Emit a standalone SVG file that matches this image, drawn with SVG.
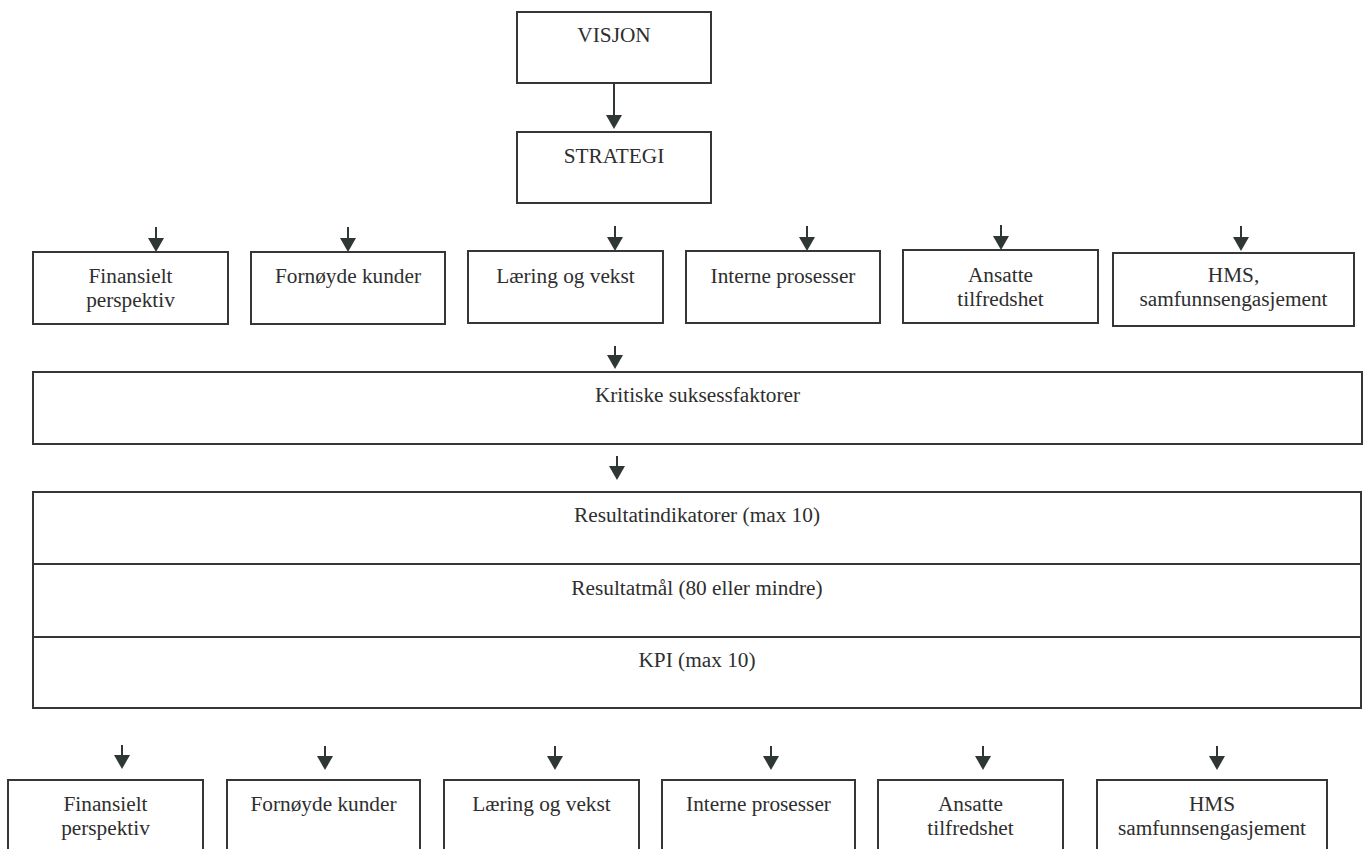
<svg xmlns="http://www.w3.org/2000/svg" width="1369" height="849" viewBox="0 0 1369 849">
<defs>
<style>
.box{fill:#ffffff;stroke:#363636;stroke-width:2}
.div{stroke:#363636;stroke-width:2}
.t{font-family:"Liberation Serif","Times New Roman",serif;font-size:21.3px;fill:#2e2e2e;text-anchor:middle}
.c{stroke:#2f3735;stroke-width:2;fill:none;marker-end:url(#ah)}
</style>
<marker id="ah" viewBox="0 0 10 10" refX="0" refY="5" markerUnits="userSpaceOnUse" markerWidth="14" markerHeight="16" orient="auto" preserveAspectRatio="none">
<path d="M0,0 L10,5 L0,10 z" fill="#2f3735"/>
</marker>
</defs>
<rect width="1369" height="849" fill="#ffffff"/>

<g id="connectors">
<line class="c" x1="614" y1="83" x2="614" y2="115"/>
<line class="c" x1="156" y1="227" x2="156" y2="238"/>
<line class="c" x1="348" y1="227" x2="348" y2="238"/>
<line class="c" x1="615" y1="226" x2="615" y2="237"/>
<line class="c" x1="807" y1="226" x2="807" y2="237"/>
<line class="c" x1="1001" y1="225" x2="1001" y2="236"/>
<line class="c" x1="1241" y1="226" x2="1241" y2="237"/>
<line class="c" x1="615" y1="346" x2="615" y2="355"/>
<line class="c" x1="617" y1="456" x2="617" y2="466"/>
<line class="c" x1="122" y1="745" x2="122" y2="755"/>
<line class="c" x1="325" y1="746" x2="325" y2="756"/>
<line class="c" x1="555" y1="746" x2="555" y2="756"/>
<line class="c" x1="771" y1="746" x2="771" y2="756"/>
<line class="c" x1="983" y1="746" x2="983" y2="756"/>
<line class="c" x1="1217" y1="746" x2="1217" y2="756"/>
</g>

<g id="visjon">
<rect class="box" x="517" y="12" width="194" height="71"/>
<text class="t" x="614" y="42">VISJON</text>
</g>
<g id="strategi">
<rect class="box" x="517" y="132" width="194" height="71"/>
<text class="t" x="614" y="163">STRATEGI</text>
</g>

<g id="r1-finansielt">
<rect class="box" x="33" y="252" width="195" height="72"/>
<text class="t" x="130.5" y="283">Finansielt</text>
<text class="t" x="130.5" y="307">perspektiv</text>
</g>
<g id="r1-fornoyde">
<rect class="box" x="251" y="252" width="194" height="72"/>
<text class="t" x="348" y="283">Fornøyde kunder</text>
</g>
<g id="r1-laering">
<rect class="box" x="468" y="251" width="195" height="72"/>
<text class="t" x="565.5" y="283">Læring og vekst</text>
</g>
<g id="r1-interne">
<rect class="box" x="686" y="251" width="194" height="72"/>
<text class="t" x="783" y="283">Interne prosesser</text>
</g>
<g id="r1-ansatte">
<rect class="box" x="903" y="250" width="195" height="73"/>
<text class="t" x="1000.5" y="282">Ansatte</text>
<text class="t" x="1000.5" y="306">tilfredshet</text>
</g>
<g id="r1-hms">
<rect class="box" x="1113" y="253" width="241" height="73"/>
<text class="t" x="1233.5" y="282">HMS,</text>
<text class="t" x="1233.5" y="306">samfunnsengasjement</text>
</g>

<g id="kritiske">
<rect class="box" x="33" y="372" width="1329" height="72"/>
<text class="t" x="697.5" y="402">Kritiske suksessfaktorer</text>
</g>

<g id="resultat">
<rect class="box" x="33" y="492" width="1328" height="216"/>
<line class="div" x1="33" y1="564" x2="1361" y2="564"/>
<line class="div" x1="33" y1="637" x2="1361" y2="637"/>
<text class="t" x="697" y="522">Resultatindikatorer (max 10)</text>
<text class="t" x="697" y="595">Resultatmål (80 eller mindre)</text>
<text class="t" x="697" y="667">KPI (max 10)</text>
</g>

<g id="r2-finansielt">
<rect class="box" x="8" y="780" width="195" height="90"/>
<text class="t" x="105.5" y="811">Finansielt</text>
<text class="t" x="105.5" y="835">perspektiv</text>
</g>
<g id="r2-fornoyde">
<rect class="box" x="227" y="780" width="193" height="90"/>
<text class="t" x="323.5" y="811">Fornøyde kunder</text>
</g>
<g id="r2-laering">
<rect class="box" x="444" y="780" width="195" height="90"/>
<text class="t" x="541.5" y="811">Læring og vekst</text>
</g>
<g id="r2-interne">
<rect class="box" x="662" y="780" width="193" height="90"/>
<text class="t" x="758.5" y="811">Interne prosesser</text>
</g>
<g id="r2-ansatte">
<rect class="box" x="878" y="780" width="185" height="90"/>
<text class="t" x="970.5" y="811">Ansatte</text>
<text class="t" x="970.5" y="835">tilfredshet</text>
</g>
<g id="r2-hms">
<rect class="box" x="1097" y="780" width="230" height="90"/>
<text class="t" x="1212" y="811">HMS</text>
<text class="t" x="1212" y="835">samfunnsengasjement</text>
</g>
</svg>
